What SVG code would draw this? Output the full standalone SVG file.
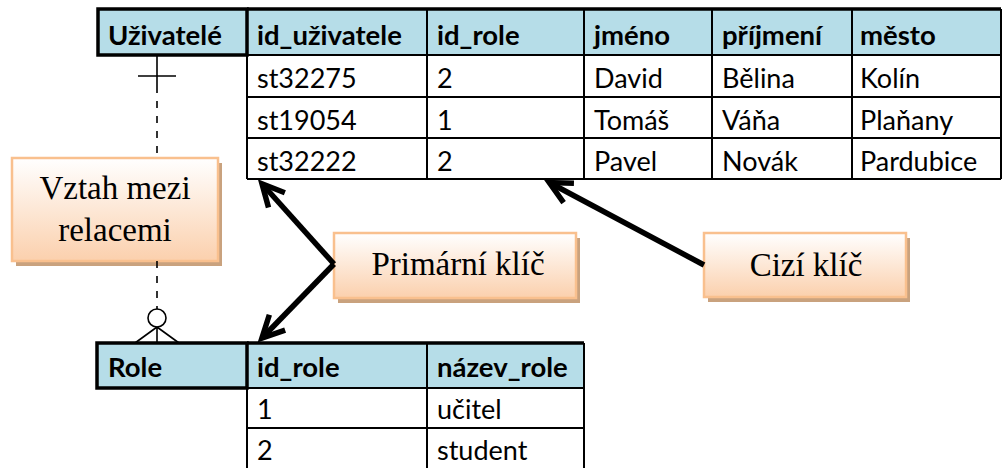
<svg xmlns="http://www.w3.org/2000/svg" width="1007" height="468" viewBox="0 0 1007 468">
  <style>
    .hdr { fill: #b6dde8; }
    .grid { stroke: #000; stroke-width: 2; fill: none; }
    .thick { stroke: #000; stroke-width: 3.5; fill: none; }
    .th { font-family: Lato, "Liberation Sans", sans-serif; font-weight: bold; font-size: 27.5px; fill: #000; }
    .td { font-family: Lato, "Liberation Sans", sans-serif; font-size: 27px; fill: #000; }
    .note { fill: url(#peach); stroke: #f9c08e; stroke-width: 2.5; }
    .shadow { fill: #c9a27e; }
    .lbl { font-family: "Liberation Serif", "Times New Roman", serif; font-size: 33px; fill: #000; text-anchor: middle; }
    .rel { stroke: #000; stroke-width: 1.6; fill: none; }
    .arrow { stroke: #000; stroke-width: 5.5; fill: none; marker-end: url(#head); }
  </style>
  <defs>
    <linearGradient id="peach" x1="0" y1="0" x2="0" y2="1">
      <stop offset="0" stop-color="#ffffff"/>
      <stop offset="1" stop-color="#fbd0ad"/>
    </linearGradient>
    <marker id="head" markerUnits="userSpaceOnUse" markerWidth="40" markerHeight="40" viewBox="-30 -20 40 40" refX="-3" refY="0" orient="auto" overflow="visible">
      <path d="M -22,-11 L 0,0 L -22,11" fill="none" stroke="#000" stroke-width="5.5" stroke-linejoin="miter"/>
    </marker>
  </defs>

  <!-- Users table -->
  <g id="uzivatele">
    <rect class="hdr" x="98" y="9" width="903" height="46"/>
    <!-- data grid -->
    <path class="grid" d="M247,9 V179 M427,9 V179 M584,9 V179 M712,9 V179 M852,9 V179 M1001,9 V179
                          M247,55 H1001 M247,97 H1001 M247,138 H1001 M247,179 H1001"/>
    <path class="thick" d="M247,9 H1001" stroke-width="3"/>
    <rect class="thick" x="98" y="9" width="149" height="46"/>
    <text class="th" x="108" y="45">Uživatelé</text>
    <text class="th" x="257" y="45">id_uživatele</text>
    <text class="th" x="437" y="45">id_role</text>
    <text class="th" x="594" y="45">jméno</text>
    <text class="th" x="722" y="45">příjmení</text>
    <text class="th" x="860" y="45">město</text>

    <text class="td" x="257" y="88">st32275</text>
    <text class="td" x="437" y="88">2</text>
    <text class="td" x="594" y="88">David</text>
    <text class="td" x="722" y="88">Bělina</text>
    <text class="td" x="860" y="88">Kolín</text>

    <text class="td" x="257" y="130">st19054</text>
    <text class="td" x="437" y="130">1</text>
    <text class="td" x="594" y="130">Tomáš</text>
    <text class="td" x="722" y="130">Váňa</text>
    <text class="td" x="860" y="130">Plaňany</text>

    <text class="td" x="257" y="171">st32222</text>
    <text class="td" x="437" y="171">2</text>
    <text class="td" x="594" y="171">Pavel</text>
    <text class="td" x="722" y="171">Novák</text>
    <text class="td" x="860" y="171">Pardubice</text>
  </g>

  <!-- Roles table -->
  <g id="role">
    <rect class="hdr" x="97" y="343" width="487" height="45"/>
    <path class="grid" d="M247,343 V470 M427,343 V470 M584,343 V470
                          M247,388 H584 M247,428 H584"/>
    <path class="thick" d="M247,343 H584" stroke-width="2.5"/>
    <rect class="thick" x="97" y="343" width="150" height="45"/>
    <text class="th" x="108" y="377">Role</text>
    <text class="th" x="257" y="377">id_role</text>
    <text class="th" x="437" y="377">název_role</text>
    <text class="td" x="257" y="419">1</text>
    <text class="td" x="437" y="419">učitel</text>
    <text class="td" x="257" y="460">2</text>
    <text class="td" x="437" y="460">student</text>
  </g>

  <!-- Callout notes -->
  <g id="vztah">
    <rect class="shadow" x="16" y="163" width="206" height="103"/>
    <rect class="note" x="12" y="158" width="206" height="103"/>
    <text class="lbl" x="115" y="199">Vztah mezi</text>
    <text class="lbl" x="115" y="241">relacemi</text>
  </g>
  <g id="primarni">
    <rect class="shadow" x="338" y="238" width="242" height="65"/>
    <rect class="note" x="334" y="233" width="242" height="65"/>
    <text class="lbl" x="458" y="275">Primární klíč</text>
  </g>
  <g id="cizi">
    <rect class="shadow" x="708" y="238" width="202" height="64"/>
    <rect class="note" x="704" y="233" width="202" height="64"/>
    <text class="lbl" x="806" y="276">Cizí klíč</text>
  </g>

  <!-- Connectors -->
  <g id="connectors">
    <!-- one-to-many relationship line with crow's foot -->
    <path class="rel" d="M157,55 V86 M138,76 H176"/>
    <path class="rel" d="M157,86 V158 M157,261 V309" stroke-dasharray="7 8"/>
    <circle class="rel" cx="157" cy="318" r="9"/>
    <path class="rel" d="M157,327 V343 M157,327 L135,343 M157,327 L179,343"/>
    <!-- key pointers -->
    <path class="arrow" d="M334,264 L264,186"/>
    <path class="arrow" d="M334,264 L264,336"/>
    <path class="arrow" d="M704,265 L552,184"/>
  </g>
</svg>
